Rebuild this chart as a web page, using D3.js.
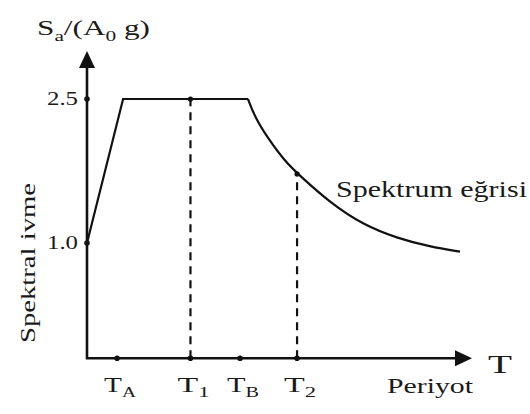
<!DOCTYPE html>
<html>
<head>
<meta charset="utf-8">
<script src="https://cdn.jsdelivr.net/npm/d3@7"></script>
<style>
  body { margin: 0; background: #fff; }
  text { font-family: "Liberation Serif", "Times New Roman", serif; fill: #1a1a1a; }
</style>
</head>
<body>
<div id="chart"></div>
<script>
// spectrum curve
var curveT  = [0, 0.15, 0.669, 0.698, 0.752, 0.823, 0.885, 1.01, 1.147, 1.288, 1.426, 1.55];
var curveSa = [1.0, 2.5, 2.5, 2.31, 2.09, 1.85, 1.70, 1.42, 1.19, 1.05, 0.96, 0.91];

// period marks on the T axis
var tickNames = ["A", "1", "B", "2"];
var tickT     = [0.125, 0.43, 0.636, 0.873];

// spectral acceleration marks on the vertical axis
var yTicks      = [2.5, 1.0];
var yTickLabels = ["2.5", "1.0"];

// dashed guides: T1 up to plateau, T2 up to curve
var guideT  = [0.43, 0.873];
var guideSa = [2.5, 1.72];

var svgWidth = 530, svgHeight = 414;

var svg = d3.select("#chart")
  .append("svg")
    .attr("width", svgWidth)
    .attr("height", svgHeight);

var x = d3.scaleLinear().domain([0, 1.6]).range([87, 472]);
var y = d3.scaleLinear().domain([1.0, 2.5]).range([243, 99]);

var x0 = x(0), yBase = y(-0.2), yTop = y(3.0), xEnd = x(1.6);

// axes
svg.append("path")
  .attr("d", "M" + x0 + "," + (yTop + 10) + "V" + yBase + "H" + (xEnd - 10))
  .attr("fill", "none")
  .attr("stroke", "#111")
  .attr("stroke-width", 2.6);

// arrow heads
svg.append("path")
  .attr("d", "M" + x0 + "," + yTop + "L" + (x0 - 8) + "," + (yTop + 17) + "L" + (x0 + 8) + "," + (yTop + 17) + "Z")
  .attr("fill", "#111");
svg.append("path")
  .attr("d", "M" + xEnd + "," + yBase + "L" + (xEnd - 17) + "," + (yBase - 8) + "L" + (xEnd - 17) + "," + (yBase + 8) + "Z")
  .attr("fill", "#111");

// curve: linear ramp + plateau, then smooth descending branch
var pts = curveT.map(function(t, i) { return [t, curveSa[i]]; });
var lineLin = d3.line().x(d => x(d[0])).y(d => y(d[1]));
var lineSmooth = d3.line().x(d => x(d[0])).y(d => y(d[1])).curve(d3.curveBasis);

svg.append("path")
  .attr("d", lineLin(pts.slice(0, 3)))
  .attr("fill", "none").attr("stroke", "#111").attr("stroke-width", 2.2)
  .attr("stroke-linejoin", "miter");
svg.append("path")
  .attr("d", lineSmooth(pts.slice(2)))
  .attr("fill", "none").attr("stroke", "#111").attr("stroke-width", 2.2);

// dashed guides
svg.selectAll(".guide")
  .data(guideT)
  .enter()
  .append("line")
    .attr("class", "guide")
    .attr("x1", d => x(d)).attr("x2", d => x(d))
    .attr("y1", yBase)
    .attr("y2", (d, i) => y(guideSa[i]))
    .attr("stroke", "#111")
    .attr("stroke-width", 2.2)
    .attr("stroke-dasharray", "8,6");

svg.selectAll(".gdot")
  .data(guideT)
  .enter()
  .append("circle")
    .attr("cx", d => x(d))
    .attr("cy", (d, i) => y(guideSa[i]))
    .attr("r", 2.6)
    .attr("fill", "#111");

// tick dots
svg.selectAll(".xdot")
  .data(tickT)
  .enter()
  .append("circle")
    .attr("cx", d => x(d)).attr("cy", yBase).attr("r", 2.8).attr("fill", "#111");
svg.selectAll(".ydot")
  .data(yTicks)
  .enter()
  .append("circle")
    .attr("cx", x0).attr("cy", d => y(d)).attr("r", 2.8).attr("fill", "#111");

// y tick labels
svg.selectAll(".ylab")
  .data(yTicks)
  .enter()
  .append("text")
    .attr("x", 47)
    .attr("y", d => y(d) + 6)
    .attr("textLength", 31)
    .attr("lengthAdjust", "spacingAndGlyphs")
    .style("font-size", "18px")
    .text((d, i) => yTickLabels[i]);

// T tick labels with subscripts
var tl = svg.selectAll(".tlab")
  .data(tickT)
  .enter()
  .append("text")
    .attr("x", d => x(d) - 13)
    .attr("y", 392)
    .attr("textLength", 32)
    .attr("lengthAdjust", "spacingAndGlyphs")
    .style("font-size", "21px");
tl.append("tspan").text("T");
tl.append("tspan")
  .attr("dy", 5)
  .style("font-size", "14px")
  .text((d, i) => tickNames[i]);

// y axis title
var yt = svg.append("text")
  .attr("x", 37).attr("y", 35)
  .attr("textLength", 113)
  .attr("lengthAdjust", "spacingAndGlyphs")
  .style("font-size", "22px");
yt.append("tspan").text("S");
yt.append("tspan").attr("dy", 6).style("font-size", "15px").text("a");
yt.append("tspan").attr("dy", -6).text("/(A");
yt.append("tspan").attr("dy", 6).style("font-size", "15px").text("0");
yt.append("tspan").attr("dy", -6).text(" g)");

// axis names
svg.append("text")
  .attr("transform", "translate(35,263)rotate(-90)")
  .attr("text-anchor", "middle")
  .attr("textLength", 160)
  .attr("lengthAdjust", "spacingAndGlyphs")
  .style("font-size", "22px")
  .text("Spektral  ivme");

svg.append("text")
  .attr("x", 488).attr("y", 373)
  .attr("textLength", 24)
  .attr("lengthAdjust", "spacingAndGlyphs")
  .style("font-size", "26px")
  .text("T");

svg.append("text")
  .attr("x", 387).attr("y", 393)
  .attr("textLength", 86)
  .attr("lengthAdjust", "spacingAndGlyphs")
  .style("font-size", "21px")
  .text("Periyot");

svg.append("text")
  .attr("x", 336).attr("y", 197)
  .attr("textLength", 191)
  .attr("lengthAdjust", "spacingAndGlyphs")
  .style("font-size", "24px")
  .text("Spektrum eğrisi");
</script>
</body>
</html>
